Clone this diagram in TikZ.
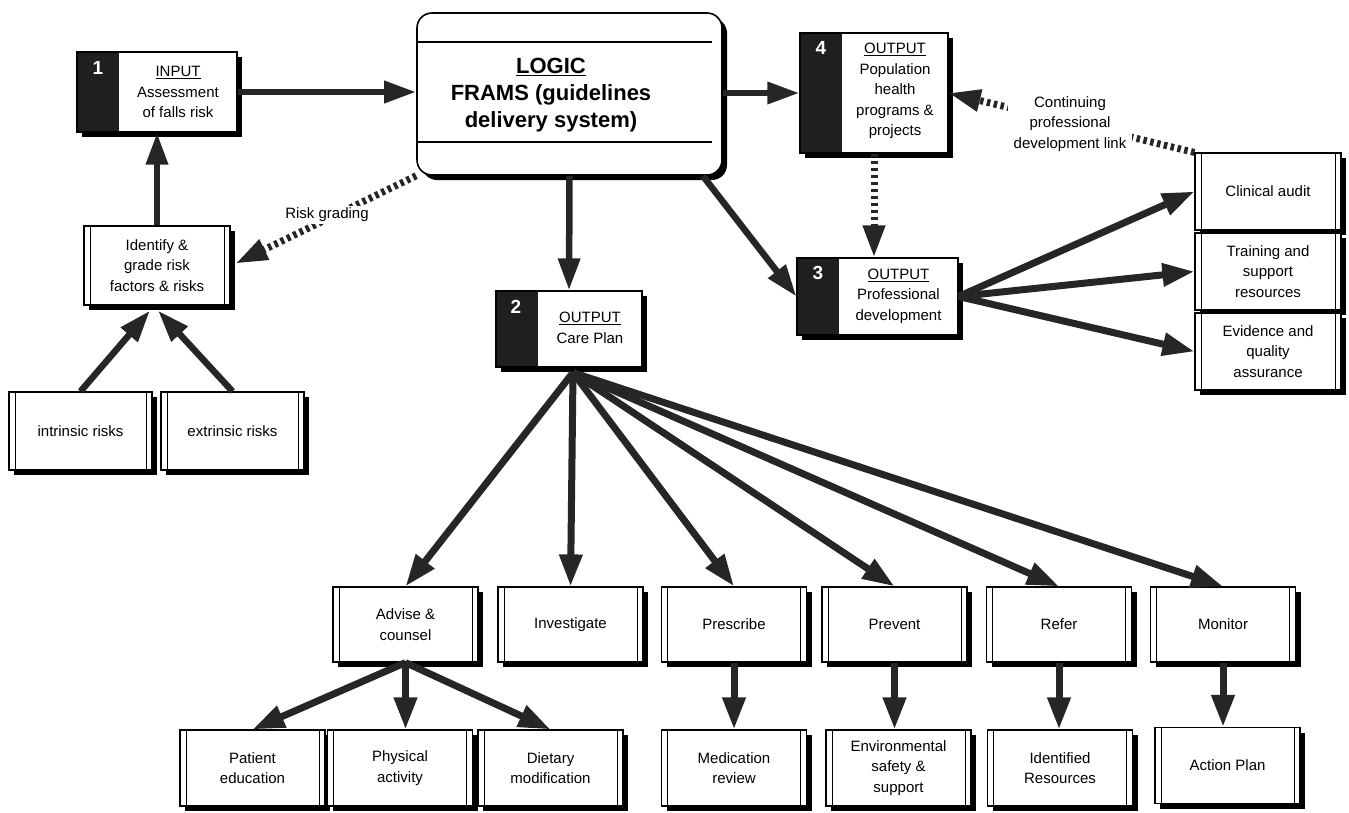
\documentclass[tikz,border=0pt]{standalone}
\usepackage{fontspec}
\setmainfont{Liberation Sans}
\usetikzlibrary{arrows.meta,shadows,calc}
\tikzset{
  txt/.style={font=\fontsize{15}{20.5}\selectfont, align=center},
  boxshade/.style={drop shadow={shadow xshift=5pt,shadow yshift=-5pt,fill=black,opacity=1}},
  dbox/.style={draw=black, line width=1.2pt, fill=white, boxshade, minimum width=145pt,
    minimum height=76pt, txt, inner sep=2pt,
    path picture={\draw[line width=1pt]
      ([xshift=6pt]path picture bounding box.north west) -- ([xshift=6pt]path picture bounding box.south west)
      ([xshift=-6pt]path picture bounding box.north east) -- ([xshift=-6pt]path picture bounding box.south east);}},
  nbox/.style={draw=black, line width=1.2pt, fill=white, boxshade, inner sep=0pt,
    path picture={\fill[black!88] (path picture bounding box.north west) rectangle ([xshift=42pt]path picture bounding box.south west);}},
  num/.style={text=white, font=\fontsize{19}{19}\selectfont\bfseries, inner sep=0pt},
  arr/.style={draw=black!85, line width=6.5pt, -{Triangle[length=32pt,width=21pt]}},
  farr/.style={draw=black!85, line width=7pt, -{Triangle[length=32pt,width=22pt]}},
  darr/.style={draw=black!85, line width=7pt, dash pattern=on 3.5pt off 3.5pt, -{Triangle[length=32pt,width=21pt]}},
}
\begin{document}
\begin{tikzpicture}[x=1pt,y=-1pt]
\useasboundingbox (0,0) rectangle (1349,812);

% ---- numbered boxes ----
\node[nbox, minimum width=160pt, minimum height=80pt] (b1) at (157,92) {};
\node[num] (b1n) at (98,68) {1};
\node[txt] (b1t) at (178,92) {\underline{INPUT}\\Assessment\\of falls risk};

\node[nbox, minimum width=148pt, minimum height=120pt] (b4) at (874,93) {};
\node[num] (b4n) at (821,48) {4};
\node[txt] (b4t) at (895,91) {\underline{OUTPUT}\\Population\\health\\programs \&\\projects};

\node[nbox, minimum width=161pt, minimum height=77pt] (b3) at (877.5,296.5) {};
\node[num] (b3n) at (818,273) {3};
\node[txt] (b3t) at (898.5,296) {\underline{OUTPUT}\\Professional\\development};

\node[nbox, minimum width=146pt, minimum height=76pt] (cp) at (569,329) {};
\node[num] (cpn) at (516,307) {2};
\node[txt] (cpt) at (590,328) {\underline{OUTPUT}\\Care Plan};

% ---- logic box ----
\node[draw=black, line width=1.6pt, fill=white, rounded corners=15pt, boxshade,
  minimum width=305pt, minimum height=162pt,
  path picture={\draw[line width=1.3pt]
    ([yshift=-29pt]path picture bounding box.north west) -- ([yshift=-29pt,xshift=-10pt]path picture bounding box.north east)
    ([yshift=33pt]path picture bounding box.south west) -- ([yshift=33pt,xshift=-10pt]path picture bounding box.south east);}]
  (logic) at (569.5,94) {};
\node[font=\fontsize{22}{27}\selectfont\bfseries, align=center] (logict) at (551,95)
  {\underline{LOGIC}\\FRAMS (guidelines\\delivery system)};

% ---- left branch ----
\node[dbox, minimum width=146pt, minimum height=79pt] (idf) at (157,265.5) {Identify \&\\grade risk\\factors \& risks};
\node[dbox, minimum width=143pt, minimum height=78pt] (int) at (80.5,431) {intrinsic risks};
\node[dbox, minimum width=143pt, minimum height=78pt] (ext) at (232.5,431) {extrinsic risks};

% ---- right branch ----
\node[dbox, minimum width=146pt, minimum height=77pt] (clin) at (1268,191.5) {Clinical audit};
\node[dbox, minimum width=146pt, minimum height=77pt] (trn) at (1268,271.5) {Training and\\support\\resources};
\node[dbox, minimum width=146pt, minimum height=77pt] (evd) at (1268,351.5) {Evidence and\\quality\\assurance};

% ---- care plan row ----
\node[dbox, minimum height=75pt] (adv) at (405.5,624.5) {Advise \&\\counsel};
\node[dbox, minimum height=75pt] (inv) at (570.5,624.5) {Investigate};
\node[dbox, minimum height=75pt] (pre) at (734,624.5) {Prescribe};
\node[dbox, minimum height=75pt] (prv) at (894.5,624.5) {Prevent};
\node[dbox, minimum height=75pt] (ref) at (1059,624.5) {Refer};
\node[dbox, minimum height=75pt] (mon) at (1223,624.5) {Monitor};

% ---- bottom row ----
\node[dbox] (pat) at (252.5,768) {Patient\\education};
\node[dbox] (phy) at (400,768) {Physical\\activity};
\node[dbox] (die) at (550.5,768) {Dietary\\modification};
\node[dbox] (med) at (734,768) {Medication\\review};
\node[dbox] (env) at (898.5,768) {Environmental\\safety \&\\support};
\node[dbox] (idr) at (1060,768) {Identified\\Resources};
\node[dbox] (act) at (1227.5,765.5) {Action Plan};

% ---- connectors ----
\draw[arr] (b1.east) -- (b1.east -| logic.west);
\draw[arr] (logic.east |- b4.west) -- (b4.west);
\draw[arr] (logic.south) -- (cp.north);
\draw[arr] ($(logic.south east)+(-20,0)$) -- (b3.west);
\draw[darr] (b4.south) -- (b4.south |- b3.north);
\draw[farr] (b3.east) -- (clin.west);
\draw[farr] (b3.east) -- (trn.west);
\draw[farr] (b3.east) -- (evd.west);

\draw[darr] (clin.north west) -- (b4.east);
\node[txt, fill=white, inner xsep=6pt, inner ysep=3pt] (cpd) at (1070,124) {Continuing\\professional\\development link};

\draw[darr] (logic.south west) -- ($(idf.east)+(5,-2)$);
\node[txt, fill=white, inner sep=2pt] (rg) at (327,215) {Risk grading};

\draw[arr] (idf.north) -- (b1.south);
\draw[arr] (int.north) -- ($(idf.south)+(-7,5)$);
\draw[arr] (ext.north) -- ($(idf.south)+(1,5)$);

\foreach \t in {adv,inv,pre,prv,ref,mon}
  \draw[farr] ($(cp.south)+(4,5)$) -- (\t.north);

\draw[farr] (adv.south) -- (pat.north);
\draw[farr] (adv.south) -- (adv.south |- phy.north);
\draw[farr] (adv.south) -- (die.north);
\draw[farr] (pre.south) -- (med.north);
\draw[farr] (prv.south) -- (prv.south |- env.north);
\draw[farr] (ref.south) -- (ref.south |- idr.north);
\draw[farr] (mon.south) -- (mon.south |- act.north);
\end{tikzpicture}
\end{document}
